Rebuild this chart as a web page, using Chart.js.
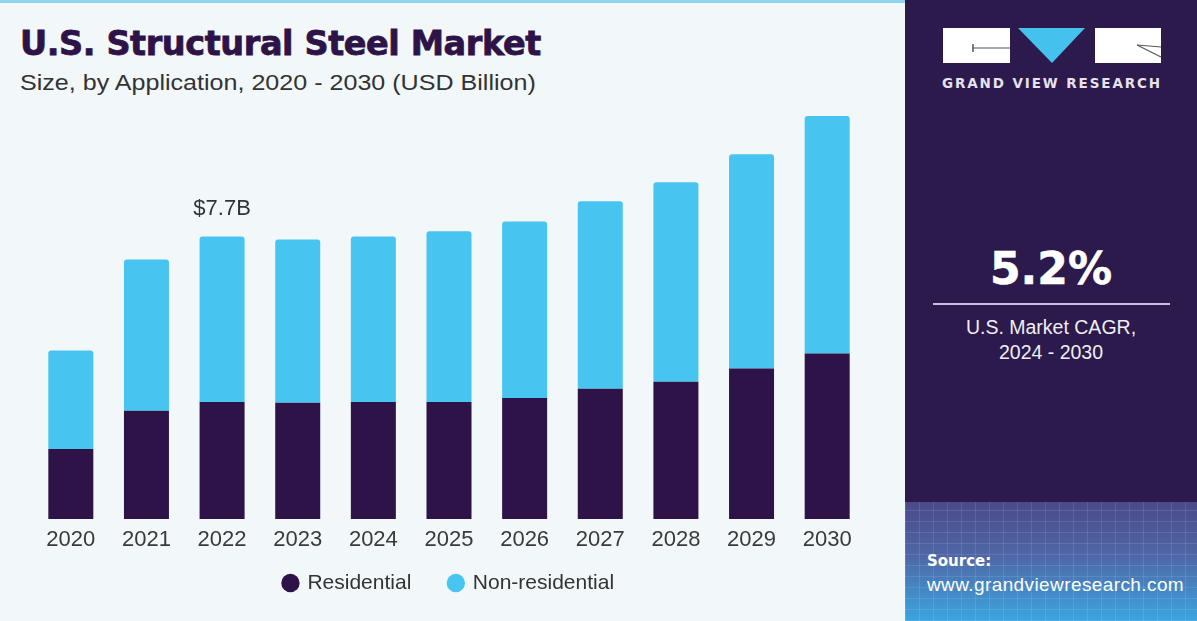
<!DOCTYPE html>
<html>
<head>
<meta charset="utf-8">
<script src="https://cdn.jsdelivr.net/npm/chart.js@4.4.0/dist/chart.umd.min.js"></script>
<style>
    html, body { margin: 0; padding: 0; }
    body { width: 1197px; height: 621px; position: relative; overflow: hidden; background: #f2f7fa; font-family: "Liberation Sans", Arial, sans-serif; }
    .left { position: absolute; left: 0; top: 0; width: 905px; height: 621px; background: #f2f7fa; border-top: 3px solid #8fd3ef; box-sizing: border-box; }
    .title { position: absolute; left: 20px; top: 21px; font-family: "DejaVu Sans", sans-serif; font-weight: bold; font-size: 33px; color: #2d1347; letter-spacing: -0.4px; -webkit-text-stroke: 0.8px #2d1347; white-space: nowrap; transform: scaleX(1.015); transform-origin: left; }
    .subtitle { position: absolute; left: 20px; top: 67px; font-size: 22px; color: #333; white-space: nowrap; transform: scaleX(1.14); transform-origin: left; }
    .chartBox { position: absolute; left: 0; top: 0; width: 905px; height: 621px; }
    .right { position: absolute; left: 905px; top: 0; width: 292px; height: 621px; background: #2b1a4b; overflow: hidden; }
    .grid { position: absolute; left: 0; top: 502px; width: 292px; height: 119px;
        background:
            repeating-linear-gradient(90deg, rgba(255,255,255,0.10) 0 1px, transparent 1px 14px),
            repeating-linear-gradient(0deg, rgba(255,255,255,0.10) 0 1px, transparent 1px 11px),
            linear-gradient(180deg, #4a4a88 0%, #4f66a6 45%, #3aa6e0 100%); }
    .logoText { position: absolute; left: 36px; top: 75px; width: 222px; text-align: center; font-family: "DejaVu Sans", sans-serif; font-weight: bold; font-size: 13.5px; letter-spacing: 1.9px; color: #e6e2ee; white-space: nowrap; }
    .cagr { position: absolute; left: 0; width: 292px; text-align: center; color: #fff; white-space: nowrap; }
    .big { top: 243px; font-family: "DejaVu Sans", sans-serif; font-weight: bold; font-size: 44px; -webkit-text-stroke: 0.6px #fff; }
    .rule { position: absolute; left: 28px; top: 303px; width: 237px; height: 2px; background: #c9bfdc; }
    .small { font-size: 19.5px; color: #f0eef5; }
    .src { position: absolute; left: 22px; color: #fff; white-space: nowrap; }
</style>
</head>
<body>
<div class="left">
    <div class="title">U.S. Structural Steel Market</div>
    <div class="subtitle">Size, by Application, 2020 - 2030 (USD Billion)</div>
</div>
<div class="chartBox"><canvas id="barChart"></canvas></div>

<div class="right">
    <svg width="292" height="80" style="position:absolute;left:0;top:0">
        <rect x="38" y="28" width="67" height="35" fill="#ffffff"/>
        <line x1="68" y1="48" x2="105" y2="48" stroke="#555" stroke-width="1.2"/>
        <line x1="68" y1="44" x2="68" y2="52" stroke="#555" stroke-width="1.5"/>
        <polygon points="113,28 180,28 147,63" fill="#45c1ee"/>
        <rect x="190" y="28" width="66" height="35" fill="#ffffff"/>
        <line x1="232" y1="45" x2="256" y2="57" stroke="#555" stroke-width="1.2"/>
        <line x1="232" y1="45" x2="256" y2="47" stroke="#555" stroke-width="1"/>
    </svg>
    <div class="logoText">GRAND VIEW RESEARCH</div>
    <div class="cagr big">5.2%</div>
    <div class="rule"></div>
    <div class="cagr small" style="top:316px">U.S. Market CAGR,</div>
    <div class="cagr small" style="top:341px">2024 - 2030</div>
    <div class="grid"></div>
    <div class="src" style="top:552px; font-family:'DejaVu Sans',sans-serif; font-weight:bold; font-size:15px;">Source:</div>
    <div class="src" style="top:574px; font-size:19px; letter-spacing:0.4px;">www.grandviewresearch.com</div>
</div>

<script>
// DATA
const years = ["2020", "2021", "2022", "2023", "2024", "2025", "2026", "2027", "2028", "2029", "2030"];
const residential = [1.91, 2.95, 3.19, 3.17, 3.19, 3.19, 3.30, 3.55, 3.74, 4.10, 4.51];
const nonResidential = [2.68, 4.12, 4.51, 4.45, 4.51, 4.65, 4.81, 5.11, 5.44, 5.84, 6.47];
const labelIndex = 2; // the $7.7B callout

const darkPurple = "#2d1347";
const lightBlue = "#47c5f0";

// callout above one bar, taken from the stacked total
const totalLabel = {
    id: "totalLabel",
    afterDatasetsDraw(chart) {
        const meta = chart.getDatasetMeta(1);
        const bar = meta.data[labelIndex];
        if (!bar) return;
        const total = residential[labelIndex] + nonResidential[labelIndex];
        const ctx = chart.ctx;
        ctx.save();
        ctx.font = "22px 'Liberation Sans', Arial, sans-serif";
        ctx.fillStyle = "#333333";
        ctx.textAlign = "center";
        ctx.textBaseline = "middle";
        ctx.fillText("$" + total.toFixed(1) + "B", bar.x, bar.y - 28);
        ctx.restore();
    }
};

// pull the legend up a little, closer to the year labels
const legendShift = {
    id: "legendShift",
    afterLayout(chart) {
        if (chart.legend) {
            chart.legend.top -= 17.5;
            chart.legend.bottom -= 17.5;
        }
    }
};

new Chart(document.getElementById("barChart"), {
    type: "bar",
    data: {
        labels: years,
        datasets: [{
            label: "Residential",
            data: residential,
            backgroundColor: darkPurple,
            borderSkipped: false
        }, {
            label: "Non-residential",
            data: nonResidential,
            backgroundColor: lightBlue,
            borderRadius: { topLeft: 3, topRight: 3, bottomLeft: 0, bottomRight: 0 },
            borderSkipped: false
        }]
    },
    options: {
        responsive: true,
        maintainAspectRatio: false,
        animation: false,
        layout: { padding: { left: 33, right: 40, top: 97, bottom: 0 } },
        datasets: { bar: { categoryPercentage: 1, barPercentage: 0.595 } },
        scales: {
            x: {
                stacked: true,
                grid: { display: false, drawTicks: false },
                border: { display: false },
                ticks: { color: "#3a3a3a", padding: 8, font: { family: "'Liberation Sans', Arial, sans-serif", size: 22 } },
                afterFit(scale) { scale.height = 33; }
            },
            y: {
                stacked: true,
                display: false,
                min: 0,
                max: 11.5
            }
        },
        plugins: {
            legend: {
                position: "bottom",
                labels: {
                    usePointStyle: true,
                    pointStyle: "circle",
                    boxWidth: 13,
                    boxHeight: 13,
                    padding: 38,
                    color: "#333333",
                    font: { family: "'Liberation Sans', Arial, sans-serif", size: 21 }
                }
            },
            tooltip: { enabled: false }
        }
    },
    plugins: [totalLabel, legendShift]
});
</script>
</body>
</html>
